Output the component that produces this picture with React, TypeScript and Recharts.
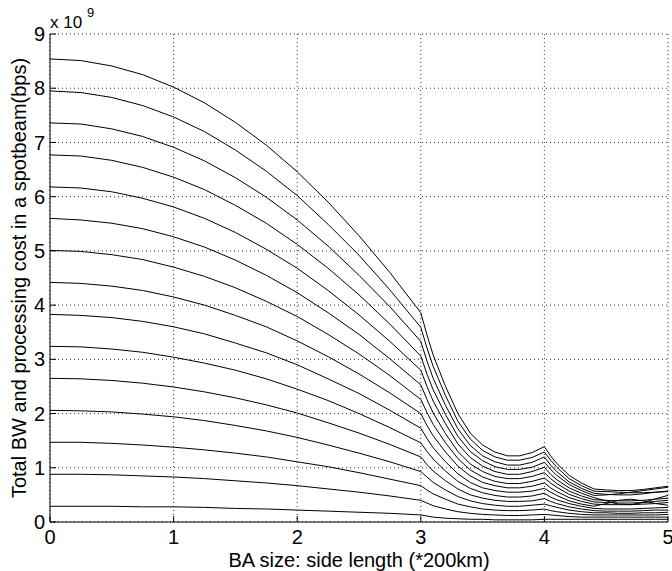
import React from 'react';
import { LineChart, Line, XAxis, YAxis, CartesianGrid } from 'recharts';

// BA size (side length, *200km)
const xs = [0, 0.25, 0.5, 0.75, 1, 1.25, 1.5, 1.75, 2, 2.25, 2.5, 2.75, 3, 3.05, 3.1, 3.2, 3.3, 3.4, 3.5, 3.6, 3.7, 3.8, 3.9, 4, 4.05, 4.1, 4.2, 4.3, 4.4, 4.5, 4.6, 4.7, 4.8, 4.9, 5];

// cost curves, in units of 1e9 bps
const c01 = [0.29, 0.29, 0.29, 0.28, 0.28, 0.27, 0.25, 0.24, 0.22, 0.20, 0.18, 0.16, 0.13, 0.11, 0.09, 0.07, 0.06, 0.05, 0.05, 0.04, 0.04, 0.04, 0.04, 0.05, 0.05, 0.05, 0.05, 0.05, 0.05, 0.05, 0.05, 0.05, 0.05, 0.05, 0.05];
const c02 = [0.88, 0.88, 0.87, 0.85, 0.83, 0.80, 0.76, 0.72, 0.67, 0.61, 0.55, 0.48, 0.40, 0.35, 0.30, 0.24, 0.19, 0.16, 0.14, 0.13, 0.12, 0.12, 0.13, 0.14, 0.13, 0.12, 0.10, 0.09, 0.09, 0.09, 0.09, 0.09, 0.09, 0.09, 0.09];
const c03 = [1.47, 1.47, 1.45, 1.42, 1.38, 1.33, 1.27, 1.20, 1.11, 1.02, 0.91, 0.79, 0.67, 0.59, 0.52, 0.42, 0.33, 0.28, 0.24, 0.22, 0.21, 0.21, 0.22, 0.24, 0.21, 0.19, 0.16, 0.14, 0.13, 0.13, 0.13, 0.13, 0.13, 0.13, 0.14];
const c04 = [2.06, 2.05, 2.03, 1.99, 1.94, 1.87, 1.78, 1.68, 1.56, 1.42, 1.27, 1.11, 0.93, 0.83, 0.73, 0.59, 0.47, 0.39, 0.34, 0.31, 0.29, 0.29, 0.31, 0.33, 0.30, 0.27, 0.22, 0.19, 0.17, 0.17, 0.16, 0.16, 0.17, 0.17, 0.18];
const c05 = [2.65, 2.64, 2.61, 2.56, 2.49, 2.40, 2.29, 2.16, 2.01, 1.83, 1.64, 1.43, 1.20, 1.06, 0.94, 0.76, 0.61, 0.50, 0.44, 0.40, 0.38, 0.38, 0.39, 0.43, 0.38, 0.34, 0.28, 0.24, 0.21, 0.20, 0.20, 0.20, 0.21, 0.22, 0.22];
const c06 = [3.24, 3.23, 3.19, 3.13, 3.04, 2.93, 2.80, 2.64, 2.45, 2.24, 2.00, 1.74, 1.46, 1.30, 1.16, 0.94, 0.75, 0.62, 0.54, 0.49, 0.46, 0.46, 0.48, 0.53, 0.46, 0.41, 0.34, 0.29, 0.25, 0.24, 0.24, 0.24, 0.25, 0.26, 0.27];
const c07 = [3.83, 3.81, 3.77, 3.70, 3.60, 3.47, 3.30, 3.12, 2.90, 2.64, 2.37, 2.06, 1.73, 1.54, 1.37, 1.11, 0.89, 0.73, 0.63, 0.58, 0.55, 0.55, 0.57, 0.62, 0.55, 0.49, 0.39, 0.33, 0.29, 0.34, 0.40, 0.42, 0.39, 0.34, 0.31];
const c08 = [4.42, 4.40, 4.35, 4.27, 4.15, 4.00, 3.81, 3.60, 3.34, 3.05, 2.73, 2.38, 2.00, 1.78, 1.59, 1.29, 1.03, 0.85, 0.73, 0.67, 0.63, 0.63, 0.66, 0.72, 0.63, 0.56, 0.45, 0.38, 0.33, 0.32, 0.32, 0.32, 0.33, 0.34, 0.36];
const c09 = [5.01, 4.99, 4.93, 4.84, 4.70, 4.53, 4.32, 4.07, 3.79, 3.46, 3.10, 2.70, 2.26, 2.02, 1.80, 1.46, 1.17, 0.96, 0.83, 0.75, 0.71, 0.71, 0.75, 0.81, 0.72, 0.64, 0.51, 0.43, 0.37, 0.36, 0.35, 0.35, 0.36, 0.38, 0.40];
const c10 = [5.60, 5.57, 5.51, 5.41, 5.26, 5.07, 4.83, 4.55, 4.23, 3.86, 3.46, 3.01, 2.53, 2.26, 2.01, 1.63, 1.30, 1.07, 0.93, 0.84, 0.80, 0.80, 0.84, 0.91, 0.80, 0.71, 0.57, 0.48, 0.41, 0.40, 0.39, 0.39, 0.40, 0.42, 0.44];
const c11 = [6.18, 6.16, 6.09, 5.97, 5.81, 5.60, 5.34, 5.03, 4.68, 4.27, 3.82, 3.33, 2.80, 2.50, 2.23, 1.81, 1.44, 1.19, 1.03, 0.93, 0.88, 0.88, 0.93, 1.01, 0.88, 0.78, 0.63, 0.53, 0.45, 0.39, 0.33, 0.32, 0.36, 0.43, 0.49];
const c12 = [6.77, 6.75, 6.67, 6.54, 6.36, 6.13, 5.84, 5.51, 5.12, 4.68, 4.19, 3.65, 3.06, 2.73, 2.44, 1.98, 1.58, 1.30, 1.13, 1.02, 0.97, 0.97, 1.01, 1.10, 0.97, 0.86, 0.69, 0.58, 0.49, 0.50, 0.52, 0.55, 0.58, 0.61, 0.64];
const c13 = [7.36, 7.34, 7.25, 7.11, 6.91, 6.66, 6.35, 5.99, 5.57, 5.09, 4.55, 3.97, 3.33, 2.97, 2.65, 2.15, 1.72, 1.41, 1.22, 1.11, 1.05, 1.05, 1.10, 1.20, 1.05, 0.93, 0.74, 0.62, 0.53, 0.51, 0.50, 0.50, 0.52, 0.55, 0.57];
const c14 = [7.95, 7.92, 7.83, 7.68, 7.47, 7.20, 6.86, 6.47, 6.02, 5.49, 4.92, 4.28, 3.59, 3.21, 2.87, 2.33, 1.86, 1.53, 1.32, 1.20, 1.14, 1.14, 1.19, 1.29, 1.14, 1.01, 0.80, 0.67, 0.57, 0.56, 0.55, 0.54, 0.54, 0.55, 0.56];
const c15 = [8.54, 8.51, 8.41, 8.25, 8.02, 7.73, 7.37, 6.95, 6.46, 5.90, 5.28, 4.60, 3.86, 3.45, 3.08, 2.50, 2.00, 1.64, 1.42, 1.29, 1.22, 1.22, 1.28, 1.39, 1.22, 1.08, 0.86, 0.72, 0.61, 0.59, 0.58, 0.58, 0.60, 0.63, 0.66];

const curves = [c01, c02, c03, c04, c05, c06, c07, c08, c09, c10, c11, c12, c13, c14, c15];
const xTicks = [0, 1, 2, 3, 4, 5];
const yTicks = [0, 1, 2, 3, 4, 5, 6, 7, 8, 9];

const xLabel = 'BA size: side length (*200km)';
const yLabel = 'Total BW and processing cost in a spotbeam(bps)';

const data = xs.map((x, i) => {
  const row: Record<string, number> = { x };
  curves.forEach((c, k) => {
    row['s' + k] = c[i];
  });
  return row;
});

const FONT = '"Liberation Sans", Arial, Helvetica, sans-serif';

const XTick = (props: any) => {
  const { x, y, payload } = props;
  return (
    <g>
      <line x1={x} x2={x} y1={y - 8} y2={y - 14} stroke="#000" strokeWidth={1} />
      <text x={x} y={y} dy="0.71em" textAnchor="middle" fontSize={20} fontFamily={FONT} fill="#000">
        {payload.value}
      </text>
    </g>
  );
};

const YTick = (props: any) => {
  const { x, y, payload } = props;
  return (
    <g>
      <line x1={x + 5} x2={x + 11} y1={y} y2={y} stroke="#000" strokeWidth={1} />
      <text x={x} y={y} dy="0.355em" textAnchor="end" fontSize={20} fontFamily={FONT} fill="#000">
        {payload.value}
      </text>
    </g>
  );
};

export default function App() {
  return (
    <div style={{ position: 'absolute', left: 0, top: 0, width: 672, height: 571, background: '#fff' }}>
      <LineChart
        width={672}
        height={571}
        data={data}
        margin={{ top: 34, right: 4, bottom: 0, left: 0 }}
      >
        <CartesianGrid
          stroke="#333"
          strokeDasharray="1 3"
          strokeWidth={1}
          horizontalValues={yTicks}
          verticalValues={xTicks}
        />
        <XAxis
          dataKey="x"
          type="number"
          domain={[0, 5]}
          ticks={xTicks}
          height={49}
          tickSize={0}
          tickMargin={8}
          tick={XTick}
          axisLine={{ stroke: '#000', strokeWidth: 1 }}
          tickLine={false}
          interval={0}
          allowDataOverflow
        />
        <YAxis
          type="number"
          domain={[0, 9]}
          ticks={yTicks}
          width={50}
          tickSize={0}
          tickMargin={5}
          tick={YTick}
          axisLine={{ stroke: '#000', strokeWidth: 1 }}
          tickLine={false}
          interval={0}
          allowDataOverflow
        />
        {curves.map((_, k) => (
          <Line
            key={k}
            type="linear"
            dataKey={'s' + k}
            stroke="#000"
            strokeWidth={1}
            dot={false}
            activeDot={false}
            isAnimationActive={false}
          />
        ))}
      </LineChart>
      <svg
        width={672}
        height={571}
        style={{ position: 'absolute', left: 0, top: 0, pointerEvents: 'none' }}
      >
        <text x={50} y={28} fontSize={17} fontFamily={FONT} fill="#000">x 10</text>
        <text x={87} y={17} fontSize={13} fontFamily={FONT} fill="#000">9</text>
        <text x={359} y={567} textAnchor="middle" fontSize={20} fontFamily={FONT} fill="#000">
          {xLabel}
        </text>
        <text
          x={26}
          y={278}
          textAnchor="middle"
          fontSize={20}
          fontFamily={FONT}
          fill="#000"
          transform="rotate(-90, 26, 278)"
        >
          {yLabel}
        </text>
      </svg>
    </div>
  );
}
